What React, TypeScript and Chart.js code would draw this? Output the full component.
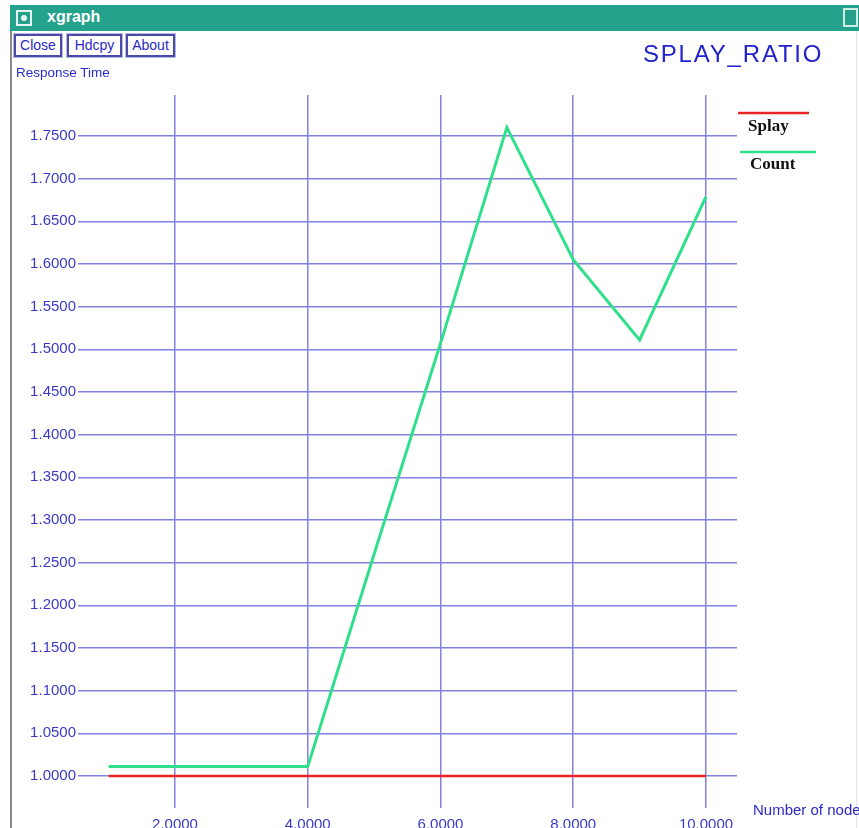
import React, { useEffect, useRef } from "react";
import { Chart, registerables } from "chart.js";

Chart.register(...registerables);

const xValues = [1, 2, 3, 4, 5, 6, 7, 8, 9, 10];
const splayValues = [1, 1, 1, 1, 1, 1, 1, 1, 1, 1];
const countValues = [1.011, 1.011, 1.011, 1.011, 1.26, 1.507, 1.76, 1.605, 1.511, 1.679];
const seriesNames = ["Splay", "Count"];
const seriesColors = ["#e82424", "#2fe08a"];
const xTicks = [2, 4, 6, 8, 10];
const yTicks = [1.0, 1.05, 1.1, 1.15, 1.2, 1.25, 1.3, 1.35, 1.4, 1.45, 1.5, 1.55, 1.6, 1.65, 1.7, 1.75];
const chartTitle = "SPLAY_RATIO";
const yAxisTitle = "Response Time";
const xAxisTitle = "Number of nodes";
const windowTitle = "xgraph";
const buttons = ["Close", "Hdcpy", "About"];

const GRID = "#8282e2";
const TICK = "#3a3ac8";

const legendPlugin = {
  id: "xgLegend",
  afterDraw(chart: any) {
    const { ctx, chartArea } = chart;
    const r = chartArea.right;
    const t = chartArea.top;
    const offs = [
      { x1: 1, x2: 72, ly: 18, tx: 11, ty: 32 },
      { x1: 3, x2: 79, ly: 57, tx: 13, ty: 70 },
    ];
    ctx.save();
    chart.data.datasets.forEach((ds: any, i: number) => {
      const o = offs[i];
      ctx.strokeStyle = ds.borderColor;
      ctx.lineWidth = 2.5;
      ctx.beginPath();
      ctx.moveTo(r + o.x1, t + o.ly);
      ctx.lineTo(r + o.x2, t + o.ly);
      ctx.stroke();
      ctx.fillStyle = "#111";
      ctx.font = 'bold 17px "Liberation Serif"';
      ctx.textBaseline = "middle";
      ctx.textAlign = "left";
      ctx.fillText(ds.label, r + o.tx, t + o.ty);
    });
    ctx.restore();
  },
};

function ChartCanvas() {
  const ref = useRef<HTMLCanvasElement | null>(null);
  useEffect(() => {
    if (!ref.current) return;
    const chart = new Chart(ref.current, {
      type: "line",
      data: {
        datasets: [
          {
            label: seriesNames[0],
            data: xValues.map((x, i) => ({ x, y: splayValues[i] })),
            borderColor: seriesColors[0],
            borderWidth: 2.5,
            pointRadius: 0,
            tension: 0,
          },
          {
            label: seriesNames[1],
            data: xValues.map((x, i) => ({ x, y: countValues[i] })),
            borderColor: seriesColors[1],
            borderWidth: 3,
            pointRadius: 0,
            tension: 0,
          },
        ],
      },
      options: {
        animation: false,
        responsive: false,
        devicePixelRatio: 1,
        layout: { padding: { left: 0, top: 95, right: 122, bottom: 0 } },
        plugins: { legend: { display: false }, tooltip: { enabled: false }, title: { display: false } },
        scales: {
          x: {
            type: "linear",
            min: 0.539,
            max: 10.467,
            afterBuildTicks: (scale: any) => {
              scale.ticks = xTicks.map((v) => ({ value: v }));
            },
            afterFit: (scale: any) => {
              scale.height = 20;
            },
            grid: { color: GRID, lineWidth: 1.5, drawTicks: false },
            border: { display: false },
            ticks: {
              padding: 8,
              color: TICK,
              font: { family: '"Liberation Sans"', size: 15 },
              maxRotation: 0,
              autoSkip: false,
              callback: (v: any) => Number(v).toFixed(4),
            },
          },
          y: {
            type: "linear",
            min: 0.9625,
            max: 1.798,
            afterBuildTicks: (scale: any) => {
              scale.ticks = yTicks.map((v) => ({ value: v }));
            },
            afterFit: (scale: any) => {
              scale.width = 78;
            },
            grid: { color: GRID, lineWidth: 1.5, drawTicks: false },
            border: { display: false },
            ticks: {
              padding: 2,
              color: TICK,
              font: { family: '"Liberation Sans"', size: 15 },
              autoSkip: false,
              callback: (v: any) => Number(v).toFixed(4),
            },
          },
        },
      },
      plugins: [legendPlugin],
    } as any);
    return () => chart.destroy();
  }, []);
  return (
    <canvas
      ref={ref}
      width={859}
      height={828}
      style={{ position: "absolute", left: 0, top: 0, width: 859, height: 828 }}
    />
  );
}

export default function App() {
  return (
    <div
      style={{
        position: "absolute",
        left: 0,
        top: 0,
        width: 859,
        height: 828,
        overflow: "hidden",
        background: "#fff",
        fontFamily: '"Liberation Sans", Arial, sans-serif',
      }}
    >
      {/* title bar */}
      <div
        style={{
          position: "absolute",
          left: 10,
          top: 5,
          width: 849,
          height: 26,
          background: "#25a28b",
        }}
      >
        <div
          style={{
            position: "absolute",
            left: 6,
            top: 5,
            width: 12,
            height: 12,
            border: "2px solid #e8f4f0",
            boxSizing: "content-box",
          }}
        >
          <div
            style={{
              position: "absolute",
              left: 3,
              top: 3,
              width: 6,
              height: 6,
              borderRadius: 3,
              background: "#e8f4f0",
            }}
          />
        </div>
        <div
          style={{
            position: "absolute",
            left: 37,
            top: 3,
            color: "#fff",
            fontWeight: "bold",
            fontSize: 16,
            lineHeight: "18px",
          }}
        >
          {windowTitle}
        </div>
        <div
          style={{
            position: "absolute",
            left: 833,
            top: 3,
            width: 11,
            height: 15,
            border: "2px solid #cfeee2",
            borderTopWidth: 2,
          }}
        />
      </div>
      {/* window borders */}
      <div style={{ position: "absolute", left: 10, top: 31, width: 2, height: 797, background: "#8a8a8a" }} />
      <div style={{ position: "absolute", left: 856, top: 31, width: 1, height: 797, background: "#e4e4ee" }} />

      {/* buttons */}
      {buttons.map((b, i) => {
        const lefts = [14, 67, 126];
        const widths = [48, 55, 49];
        return (
          <div
            key={b}
            style={{
              position: "absolute",
              left: lefts[i],
              top: 34,
              width: widths[i],
              height: 23,
              boxSizing: "border-box",
              border: "2px solid #4a4aa8",
              outline: "1px solid #b8b8e0",
              color: "#2a2ac8",
              fontSize: 14,
              lineHeight: "19px",
              textAlign: "center",
              whiteSpace: "nowrap",
            }}
          >
            {b}
          </div>
        );
      })}

      <ChartCanvas />

      <div
        style={{
          position: "absolute",
          left: 16,
          top: 65,
          color: "#2a2ac8",
          fontSize: 13.5,
          lineHeight: "16px",
          whiteSpace: "nowrap",
        }}
      >
        {yAxisTitle}
      </div>
      <div
        style={{
          position: "absolute",
          left: 643,
          top: 40,
          color: "#2222cc",
          fontSize: 24,
          lineHeight: "28px",
          letterSpacing: "1.8px",
          whiteSpace: "nowrap",
        }}
      >
        {chartTitle}
      </div>
      <div
        style={{
          position: "absolute",
          left: 753,
          top: 801,
          color: "#2a2ac8",
          fontSize: 15,
          lineHeight: "17px",
          whiteSpace: "nowrap",
        }}
      >
        {xAxisTitle}
      </div>
    </div>
  );
}
